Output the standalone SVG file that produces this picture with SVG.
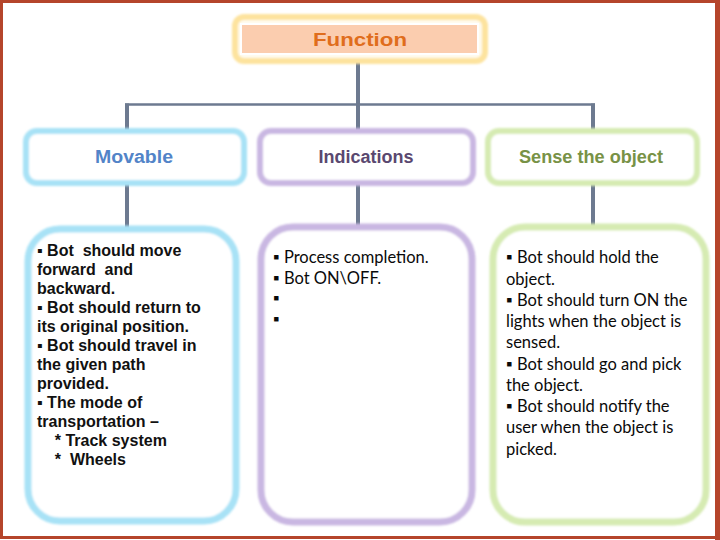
<svg xmlns="http://www.w3.org/2000/svg" width="720" height="540" viewBox="0 0 720 540">
  <defs>
    <filter id="glow" x="-10%" y="-10%" width="120%" height="120%">
      <feGaussianBlur stdDeviation="1.3"/>
    </filter>
  </defs>
  <style>
    .frame { fill: #ffffff; stroke: #b5452b; }
    .conn { stroke: #6d7a90; fill: none; }
    .blue { fill: #ffffff; stroke: #a8e2f6; }
    .purple { fill: #ffffff; stroke: #c9b7e2; }
    .green { fill: #ffffff; stroke: #d6ebb2; }
    .yellow { fill: #fffbee; stroke: #fde39e; }
    .head { font-family: "Liberation Sans", Arial, sans-serif; font-weight: bold; font-size: 18px; text-anchor: middle; }
    .body1 { font-family: "Liberation Sans", Arial, sans-serif; font-weight: bold; font-size: 16px; fill: #111111; white-space: pre; }
    .body2 { font-family: Lato, "DejaVu Sans", sans-serif; font-size: 16.5px; fill: #0a0a0a; white-space: pre; }
  </style>

  <rect class="frame" x="1.5" y="1.5" width="715" height="536" stroke-width="3"/>
  <rect x="715" y="0" width="5" height="540" fill="#b5452b"/>

  <g id="connectors">
    <line class="conn" x1="358" y1="61" x2="358" y2="131" stroke-width="4"/>
    <line class="conn" x1="125" y1="104.5" x2="595" y2="104.5" stroke-width="2.5" stroke="#7c838e"/>
    <line class="conn" x1="127" y1="103.5" x2="127" y2="131" stroke-width="4"/>
    <line class="conn" x1="593" y1="103.5" x2="593" y2="131" stroke-width="4"/>
    <line class="conn" x1="127" y1="183" x2="127" y2="229" stroke-width="4"/>
    <line class="conn" x1="358" y1="183" x2="358" y2="227" stroke-width="4"/>
    <line class="conn" x1="593" y1="183" x2="593" y2="227" stroke-width="4"/>
  </g>

  <g id="function">
    <rect class="yellow" x="235" y="17" width="250" height="44" rx="9" stroke-width="6" filter="url(#glow)"/>
    <rect x="241" y="24" width="237" height="30" fill="#fbcdaf" stroke="#ffffff" stroke-width="2"/>
    <text class="head" x="360" y="46" font-size="20" fill="#e06d1c" textLength="94" lengthAdjust="spacingAndGlyphs">Function</text>
  </g>

  <g id="movable">
    <rect class="blue" x="26" y="131" width="218" height="52" rx="11" stroke-width="6" filter="url(#glow)"/>
    <text class="head" x="134" y="163" fill="#5284c8" textLength="78" lengthAdjust="spacingAndGlyphs">Movable</text>
  </g>

  <g id="indications">
    <rect class="purple" x="260" y="131" width="213" height="52" rx="11" stroke-width="6" filter="url(#glow)"/>
    <text class="head" x="366" y="163" fill="#5a4870" textLength="95" lengthAdjust="spacingAndGlyphs">Indications</text>
  </g>

  <g id="sense">
    <rect class="green" x="488" y="131" width="209" height="52" rx="11" stroke-width="6" filter="url(#glow)"/>
    <text class="head" x="591" y="163" fill="#789246" textLength="144" lengthAdjust="spacingAndGlyphs">Sense the object</text>
  </g>

  <g id="movable-details">
    <rect class="blue" x="28" y="229" width="208" height="292" rx="32" stroke-width="7" filter="url(#glow)"/>
    <text class="body1" x="37" y="256">▪ Bot  should move</text>
    <text class="body1" x="37" y="275">forward  and</text>
    <text class="body1" x="37" y="294">backward.</text>
    <text class="body1" x="37" y="313">▪ Bot should return to</text>
    <text class="body1" x="37" y="332">its original position.</text>
    <text class="body1" x="37" y="351">▪ Bot should travel in</text>
    <text class="body1" x="37" y="370">the given path</text>
    <text class="body1" x="37" y="389">provided.</text>
    <text class="body1" x="37" y="408">▪ The mode of</text>
    <text class="body1" x="37" y="427">transportation –</text>
    <text class="body1" x="37" y="446">    * Track system</text>
    <text class="body1" x="37" y="465">    *  Wheels</text>
  </g>

  <g id="indications-details">
    <rect class="purple" x="261" y="227" width="211" height="295" rx="32" stroke-width="7" filter="url(#glow)"/>
    <text class="body2" x="273" y="263">▪ Process completion.</text>
    <text class="body2" x="273" y="284">▪ Bot ON\OFF.</text>
    <text class="body2" x="273" y="304">▪</text>
    <text class="body2" x="273" y="325">▪</text>
  </g>

  <g id="sense-details">
    <rect class="green" x="493" y="227" width="213" height="295" rx="32" stroke-width="7" filter="url(#glow)"/>
    <text class="body2" x="506" y="263">▪ Bot should hold the</text>
    <text class="body2" x="506" y="285">object.</text>
    <text class="body2" x="506" y="306">▪ Bot should turn ON the</text>
    <text class="body2" x="506" y="327">lights when the object is</text>
    <text class="body2" x="506" y="348">sensed.</text>
    <text class="body2" x="506" y="370">▪ Bot should go and pick</text>
    <text class="body2" x="506" y="391">the object.</text>
    <text class="body2" x="506" y="412">▪ Bot should notify the</text>
    <text class="body2" x="506" y="433">user when the object is</text>
    <text class="body2" x="506" y="455">picked.</text>
  </g>
</svg>
